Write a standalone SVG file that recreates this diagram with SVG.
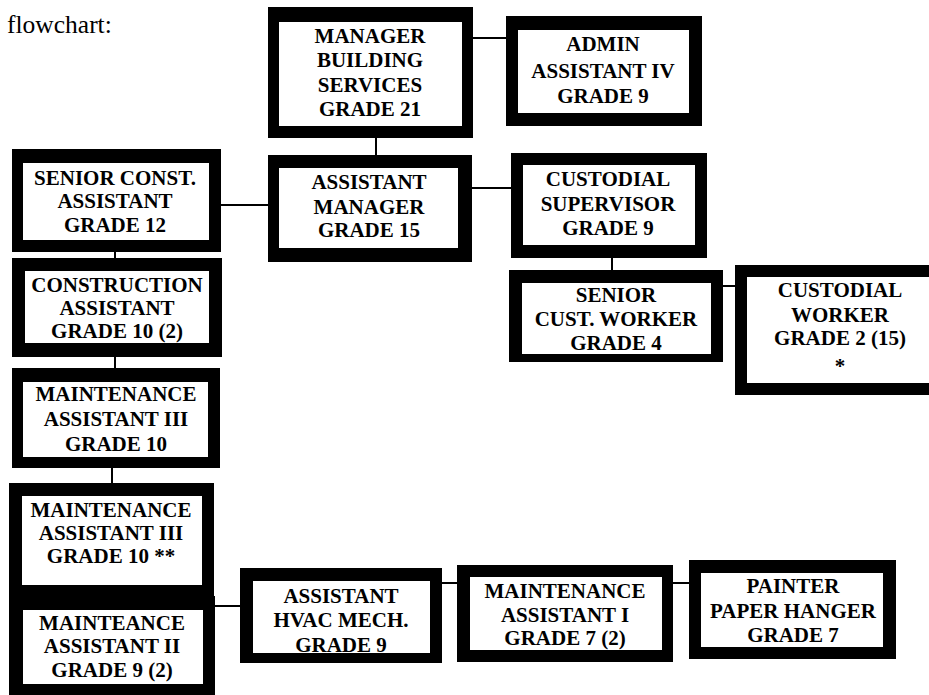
<svg xmlns="http://www.w3.org/2000/svg" width="929" height="695" viewBox="0 0 929 695">
  <style>
    .frame { fill: #000; }
    .face { fill: #fff; }
    .lbl { font-family: "Liberation Serif", "Times New Roman", serif; font-weight: bold; font-size: 21px; text-anchor: middle; fill: #000; }
    .title { font-family: "Liberation Serif", "Times New Roman", serif; font-size: 25.5px; fill: #000; }
    .link { stroke: #000; stroke-width: 2; fill: none; }
  </style>
  <rect width="929" height="695" fill="#fff"/>
  <text class="title" x="7" y="33">flowchart:</text>

  <g id="connectors">
    <line class="link" x1="473" y1="38" x2="506" y2="38"/>
    <line class="link" x1="376" y1="138" x2="376" y2="155"/>
    <line class="link" x1="221" y1="205" x2="268" y2="205"/>
    <line class="link" x1="472" y1="188" x2="511" y2="188"/>
    <line class="link" x1="612" y1="258" x2="612" y2="270"/>
    <line class="link" x1="723" y1="286" x2="735" y2="286"/>
    <line class="link" x1="115" y1="252" x2="115" y2="258"/>
    <line class="link" x1="115" y1="357" x2="115" y2="368"/>
    <line class="link" x1="112" y1="468" x2="112" y2="483"/>
    <line class="link" x1="215" y1="606" x2="240" y2="606"/>
    <line class="link" x1="442" y1="583" x2="457" y2="583"/>
    <line class="link" x1="673" y1="583" x2="689" y2="583"/>
  </g>

  <g id="manager">
    <rect class="frame" x="268" y="7" width="205" height="131"/>
    <rect class="face" x="279" y="22" width="183" height="104"/>
    <text class="lbl" x="370" y="43">MANAGER</text>
    <text class="lbl" x="370" y="67">BUILDING</text>
    <text class="lbl" x="370" y="92">SERVICES</text>
    <text class="lbl" x="370" y="116">GRADE 21</text>
  </g>

  <g id="admin-assistant">
    <rect class="frame" x="506" y="16" width="196" height="110"/>
    <rect class="face" x="518" y="30" width="171" height="83"/>
    <text class="lbl" x="603" y="51">ADMIN</text>
    <text class="lbl" x="603" y="78">ASSISTANT IV</text>
    <text class="lbl" x="603" y="103">GRADE 9</text>
  </g>

  <g id="senior-const-assistant">
    <rect class="frame" x="12" y="149" width="209" height="103"/>
    <rect class="face" x="23" y="163" width="186" height="77"/>
    <text class="lbl" x="115" y="185">SENIOR CONST.</text>
    <text class="lbl" x="115" y="208">ASSISTANT</text>
    <text class="lbl" x="115" y="232">GRADE 12</text>
  </g>

  <g id="assistant-manager">
    <rect class="frame" x="268" y="155" width="204" height="107"/>
    <rect class="face" x="279" y="168" width="179" height="80"/>
    <text class="lbl" x="369" y="189">ASSISTANT</text>
    <text class="lbl" x="369" y="214">MANAGER</text>
    <text class="lbl" x="369" y="237">GRADE 15</text>
  </g>

  <g id="custodial-supervisor">
    <rect class="frame" x="511" y="153" width="196" height="105"/>
    <rect class="face" x="523" y="165" width="172" height="80"/>
    <text class="lbl" x="608" y="186">CUSTODIAL</text>
    <text class="lbl" x="608" y="211">SUPERVISOR</text>
    <text class="lbl" x="608" y="235">GRADE 9</text>
  </g>

  <g id="senior-cust-worker">
    <rect class="frame" x="509" y="270" width="214" height="92"/>
    <rect class="face" x="522" y="283" width="189" height="71"/>
    <text class="lbl" x="616" y="302">SENIOR</text>
    <text class="lbl" x="616" y="326">CUST. WORKER</text>
    <text class="lbl" x="616" y="350">GRADE 4</text>
  </g>

  <g id="custodial-worker">
    <rect class="frame" x="735" y="265" width="210" height="130"/>
    <rect class="face" x="747" y="277" width="188" height="106"/>
    <text class="lbl" x="840" y="297">CUSTODIAL</text>
    <text class="lbl" x="840" y="322">WORKER</text>
    <text class="lbl" x="840" y="345">GRADE 2 (15)</text>
    <text class="lbl" x="840" y="373">*</text>
  </g>

  <g id="construction-assistant">
    <rect class="frame" x="12" y="258" width="210" height="99"/>
    <rect class="face" x="25" y="271" width="184" height="72"/>
    <text class="lbl" x="117" y="292">CONSTRUCTION</text>
    <text class="lbl" x="117" y="315">ASSISTANT</text>
    <text class="lbl" x="117" y="338">GRADE 10 (2)</text>
  </g>

  <g id="maintenance-assistant-iii">
    <rect class="frame" x="12" y="368" width="208" height="100"/>
    <rect class="face" x="23" y="382" width="185" height="75"/>
    <text class="lbl" x="116" y="401">MAINTENANCE</text>
    <text class="lbl" x="116" y="426">ASSISTANT III</text>
    <text class="lbl" x="116" y="451">GRADE 10</text>
  </g>

  <g id="maintenance-assistant-iii-b">
    <rect class="frame" x="9" y="483" width="205" height="116"/>
    <rect class="face" x="22" y="496" width="180" height="89"/>
    <text class="lbl" x="111" y="517">MAINTENANCE</text>
    <text class="lbl" x="111" y="540">ASSISTANT III</text>
    <text class="lbl" x="111" y="563">GRADE 10 **</text>
  </g>

  <g id="maintenance-assistant-ii">
    <rect class="frame" x="9" y="596" width="206" height="104"/>
    <rect class="face" x="23" y="610" width="180" height="74"/>
    <text class="lbl" x="112" y="630">MAINTEANCE</text>
    <text class="lbl" x="112" y="653">ASSISTANT II</text>
    <text class="lbl" x="112" y="677">GRADE 9 (2)</text>
  </g>

  <g id="assistant-hvac-mech">
    <rect class="frame" x="240" y="568" width="202" height="95"/>
    <rect class="face" x="253" y="581" width="177" height="72"/>
    <text class="lbl" x="341" y="603">ASSISTANT</text>
    <text class="lbl" x="341" y="627">HVAC MECH.</text>
    <text class="lbl" x="341" y="652">GRADE 9</text>
  </g>

  <g id="maintenance-assistant-i">
    <rect class="frame" x="457" y="565" width="216" height="97"/>
    <rect class="face" x="470" y="577" width="192" height="73"/>
    <text class="lbl" x="565" y="598">MAINTENANCE</text>
    <text class="lbl" x="565" y="622">ASSISTANT I</text>
    <text class="lbl" x="565" y="645">GRADE 7 (2)</text>
  </g>

  <g id="painter-paper-hanger">
    <rect class="frame" x="689" y="560" width="207" height="99"/>
    <rect class="face" x="701" y="573" width="182" height="74"/>
    <text class="lbl" x="793" y="593">PAINTER</text>
    <text class="lbl" x="793" y="618">PAPER HANGER</text>
    <text class="lbl" x="793" y="642">GRADE 7</text>
  </g>
</svg>
